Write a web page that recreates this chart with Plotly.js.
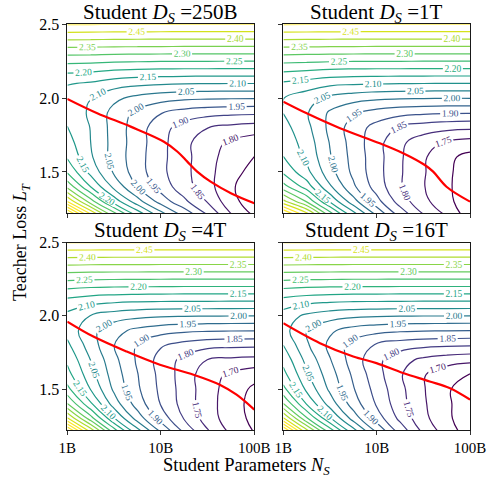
<!DOCTYPE html>
<html>
<head>
<meta charset="utf-8">
<script src="https://cdn.plot.ly/plotly-3.0.1.min.js"></script>
<style>html,body{margin:0;padding:0;background:#fff;}#chart{width:489px;height:477px;}</style>
</head>
<body>
<div id="chart"></div>
<script>
// ---- data ----
const N_B = [1, 1.778, 3.162, 5.623, 10, 17.78, 31.62, 56.23, 100];          // student params (B), grid columns
const TEACHER_LOSS = [1.2, 1.3, 1.4, 1.5, 1.6, 1.7, 1.8, 1.9, 2.0, 2.1, 2.2, 2.3, 2.6]; // grid rows
const X_TICK_VALS = [1, 10, 100];
const X_TICK_TEXT = ['1B', '10B', '100B'];
const Y_TICK_VALS = [1.5, 2.0, 2.5];
const Y_TICK_TEXT = ['1.5', '2.0', '2.5'];
const PANEL_TITLES = ['250B', '1T', '4T', '16T'];

// student loss, rows = teacher loss, cols = student params
const Z_250B = [
  [2.762, 2.532, 2.345, 2.203, 2.085, 1.995, 1.910, 1.808, 1.748],
  [2.500, 2.323, 2.180, 2.070, 1.980, 1.911, 1.846, 1.767, 1.721],
  [2.337, 2.199, 2.086, 2.000, 1.928, 1.872, 1.819, 1.757, 1.720],
  [2.244, 2.134, 2.043, 1.973, 1.913, 1.864, 1.817, 1.766, 1.735],
  [2.195, 2.107, 2.031, 1.970, 1.914, 1.865, 1.819, 1.776, 1.749],
  [2.171, 2.100, 2.032, 1.973, 1.916, 1.864, 1.821, 1.791, 1.772],
  [2.152, 2.098, 2.031, 1.973, 1.920, 1.877, 1.851, 1.835, 1.826],
  [2.130, 2.093, 2.033, 1.986, 1.952, 1.929, 1.917, 1.912, 1.909],
  [2.123, 2.101, 2.061, 2.035, 2.019, 2.010, 2.006, 2.004, 2.003],
  [2.154, 2.144, 2.124, 2.113, 2.107, 2.103, 2.102, 2.101, 2.101],
  [2.221, 2.217, 2.209, 2.205, 2.202, 2.201, 2.201, 2.200, 2.200],
  [2.308, 2.306, 2.303, 2.302, 2.301, 2.300, 2.300, 2.300, 2.300],
  [2.600, 2.600, 2.600, 2.600, 2.600, 2.600, 2.600, 2.600, 2.600]
];
const Z_1T = [
  [2.652, 2.497, 2.298, 2.138, 2.005, 1.891, 1.807, 1.750, 1.675],
  [2.416, 2.296, 2.144, 2.020, 1.918, 1.828, 1.763, 1.718, 1.660],
  [2.271, 2.177, 2.057, 1.959, 1.878, 1.806, 1.753, 1.711, 1.664],
  [2.191, 2.115, 2.018, 1.938, 1.869, 1.806, 1.755, 1.711, 1.671],
  [2.151, 2.089, 2.004, 1.933, 1.870, 1.807, 1.757, 1.712, 1.684],
  [2.133, 2.078, 1.997, 1.929, 1.868, 1.811, 1.772, 1.743, 1.730],
  [2.118, 2.065, 1.987, 1.927, 1.881, 1.845, 1.825, 1.814, 1.809],
  [2.099, 2.055, 1.992, 1.955, 1.930, 1.915, 1.908, 1.904, 1.903],
  [2.101, 2.072, 2.037, 2.020, 2.010, 2.005, 2.003, 2.001, 2.001],
  [2.143, 2.129, 2.113, 2.107, 2.104, 2.102, 2.101, 2.100, 2.100],
  [2.216, 2.211, 2.205, 2.202, 2.201, 2.201, 2.200, 2.200, 2.200],
  [2.306, 2.304, 2.302, 2.301, 2.300, 2.300, 2.300, 2.300, 2.300],
  [2.600, 2.600, 2.600, 2.600, 2.600, 2.600, 2.600, 2.600, 2.600]
];
const Z_4T = [
  [2.707, 2.466, 2.249, 2.086, 1.957, 1.851, 1.760, 1.694, 1.650],
  [2.458, 2.273, 2.105, 1.979, 1.880, 1.797, 1.726, 1.673, 1.638],
  [2.303, 2.158, 2.026, 1.927, 1.847, 1.780, 1.720, 1.673, 1.632],
  [2.215, 2.098, 1.991, 1.908, 1.839, 1.779, 1.721, 1.677, 1.640],
  [2.168, 2.069, 1.976, 1.902, 1.835, 1.777, 1.721, 1.690, 1.668],
  [2.140, 2.049, 1.964, 1.893, 1.831, 1.785, 1.749, 1.740, 1.735],
  [2.111, 2.025, 1.951, 1.895, 1.855, 1.831, 1.816, 1.812, 1.810],
  [2.082, 2.015, 1.967, 1.937, 1.919, 1.910, 1.905, 1.903, 1.902],
  [2.086, 2.048, 2.025, 2.013, 2.006, 2.003, 2.002, 2.001, 2.000],
  [2.134, 2.118, 2.109, 2.104, 2.102, 2.101, 2.101, 2.100, 2.100],
  [2.213, 2.206, 2.203, 2.202, 2.201, 2.200, 2.200, 2.200, 2.200],
  [2.305, 2.302, 2.301, 2.301, 2.300, 2.300, 2.300, 2.300, 2.300],
  [2.600, 2.600, 2.600, 2.600, 2.600, 2.600, 2.600, 2.600, 2.600]
];
const Z_16T = [
  [2.707, 2.449, 2.252, 2.088, 1.956, 1.840, 1.746, 1.680, 1.626],
  [2.458, 2.259, 2.107, 1.980, 1.878, 1.788, 1.714, 1.661, 1.617],
  [2.303, 2.147, 2.028, 1.926, 1.844, 1.770, 1.707, 1.659, 1.619],
  [2.215, 2.089, 1.990, 1.904, 1.831, 1.764, 1.704, 1.657, 1.621],
  [2.166, 2.058, 1.972, 1.891, 1.819, 1.756, 1.704, 1.669, 1.647],
  [2.134, 2.035, 1.953, 1.876, 1.813, 1.768, 1.739, 1.723, 1.714],
  [2.100, 2.008, 1.938, 1.880, 1.844, 1.823, 1.812, 1.807, 1.804],
  [2.069, 2.001, 1.958, 1.929, 1.915, 1.907, 1.904, 1.902, 1.901],
  [2.077, 2.040, 2.021, 2.010, 2.005, 2.002, 2.001, 2.001, 2.000],
  [2.130, 2.115, 2.107, 2.103, 2.102, 2.101, 2.100, 2.100, 2.100],
  [2.211, 2.205, 2.203, 2.201, 2.201, 2.200, 2.200, 2.200, 2.200],
  [2.304, 2.302, 2.301, 2.300, 2.300, 2.300, 2.300, 2.300, 2.300],
  [2.600, 2.600, 2.600, 2.600, 2.600, 2.600, 2.600, 2.600, 2.600]
];

// optimal teacher loss (red line)
const RED_250B_N = [1, 2.09, 4.76, 10.8, 15.1, 19.2, 24.5, 34.1, 56.2, 100];
const RED_250B_L = [1.995, 1.898, 1.807, 1.705, 1.637, 1.570, 1.502, 1.434, 1.356, 1.288];
const RED_1T_N = [1, 1.78, 4.05, 10.8, 19.2, 32.8, 40.3, 56.0, 100];
const RED_1T_L = [1.976, 1.897, 1.796, 1.694, 1.627, 1.547, 1.502, 1.400, 1.299];
const RED_4T_N = [1, 1.90, 4.31, 9.77, 22.4, 42.7, 64.6, 100];
const RED_4T_L = [1.961, 1.859, 1.757, 1.667, 1.599, 1.531, 1.463, 1.361];
const RED_16T_N = [1, 2.47, 5.61, 9.95, 19.2, 37.0, 60.3, 100];
const RED_16T_L = [1.950, 1.814, 1.723, 1.678, 1.610, 1.553, 1.508, 1.429];

// ---- drawing ----
const SERIF = 'Liberation Serif, Times New Roman, serif';
const panels = [
  {z: Z_250B, rn: RED_250B_N, rl: RED_250B_L, zmin: 1.75, xa: 'x',  ya: 'y'},
  {z: Z_1T,   rn: RED_1T_N,   rl: RED_1T_L,   zmin: 1.70, xa: 'x2', ya: 'y2'},
  {z: Z_4T,   rn: RED_4T_N,   rl: RED_4T_L,   zmin: 1.65, xa: 'x3', ya: 'y3'},
  {z: Z_16T,  rn: RED_16T_N,  rl: RED_16T_L,  zmin: 1.65, xa: 'x4', ya: 'y4'}
];
const traces = [];
panels.forEach(p => {
  traces.push({
    type: 'contour', x: N_B, y: TEACHER_LOSS, z: p.z, xaxis: p.xa, yaxis: p.ya,
    colorscale: 'Viridis', zmin: p.zmin, zmax: 2.5, zauto: false, showscale: false,
    autocontour: false,
    contours: {coloring: 'lines', start: 1.60, end: 2.80, size: 0.05,
               showlabels: true, labelformat: '.2f',
               labelfont: {family: SERIF, size: 9.5}},
    line: {width: 1.2, smoothing: 1.3},
    hoverinfo: 'skip'
  });
  traces.push({
    type: 'scatter', mode: 'lines', x: p.rn, y: p.rl, xaxis: p.xa, yaxis: p.ya,
    line: {color: '#ff0000', width: 2.2, shape: 'spline'}, hoverinfo: 'skip', showlegend: false
  });
});

const W = 489, H = 477;
const xl = [67.3 / W, 254.3 / W], xr = [283.3 / W, 470 / W];
const yt = [(H - 213.3) / H, (H - 24.3) / H], yb = [(H - 430.3) / H, (H - 242.5) / H];

function xax(domain, anchor, labels) {
  return {domain: domain, anchor: anchor, type: 'log', range: [0, 2],
    tickmode: 'array', tickvals: X_TICK_VALS, ticktext: X_TICK_TEXT, showticklabels: labels,
    ticks: 'outside', ticklen: 4, tickwidth: 0.8, tickcolor: '#000',
    showline: true, mirror: true, linecolor: '#000', linewidth: 0.9,
    showgrid: false, zeroline: false, fixedrange: true,
    tickfont: {family: SERIF, size: 15, color: '#000'}};
}
function yax(domain, anchor, labels) {
  return {domain: domain, anchor: anchor, range: [1.22, 2.5],
    tickmode: 'array', tickvals: Y_TICK_VALS, ticktext: Y_TICK_TEXT, showticklabels: labels,
    ticks: 'outside', ticklen: 4, tickwidth: 0.8, tickcolor: '#000',
    showline: true, mirror: true, linecolor: '#000', linewidth: 0.9,
    showgrid: false, zeroline: false, fixedrange: true,
    tickfont: {family: SERIF, size: 16, color: '#000'}};
}

const titleY = [H - 13.5, H - 13.5, H - 231, H - 231];
const titleX = [(xl[0] + xl[1]) / 2, (xr[0] + xr[1]) / 2, (xl[0] + xl[1]) / 2, (xr[0] + xr[1]) / 2];
const annotations = PANEL_TITLES.map((t, i) => ({
  text: 'Student <i>D<sub>S</sub></i> =' + t, xref: 'paper', yref: 'paper',
  x: titleX[i], y: titleY[i] / H, xanchor: 'center', yanchor: 'middle', showarrow: false,
  font: {family: SERIF, size: 21, color: '#000'}
}));
annotations.push({text: 'Student Parameters <i>N<sub>S</sub></i>', xref: 'paper', yref: 'paper',
  x: 246.5 / W, y: (H - 466.3) / H, xanchor: 'center', yanchor: 'middle', showarrow: false,
  font: {family: SERIF, size: 18.5, color: '#000'}});
annotations.push({text: 'Teacher Loss <i>L<sub>T</sub></i>', xref: 'paper', yref: 'paper',
  x: 22 / W, y: (H - 242) / H, xanchor: 'center', yanchor: 'middle', showarrow: false, textangle: -90,
  font: {family: SERIF, size: 18, color: '#000'}});

const layout = {
  width: W, height: H, margin: {l: 0, r: 0, t: 0, b: 0},
  paper_bgcolor: '#fff', plot_bgcolor: '#fff', showlegend: false, hovermode: false,
  xaxis: xax(xl, 'y', false), yaxis: yax(yt, 'x', true),
  xaxis2: xax(xr, 'y2', false), yaxis2: yax(yt, 'x2', false),
  xaxis3: xax(xl, 'y3', true), yaxis3: yax(yb, 'x3', true),
  xaxis4: xax(xr, 'y4', true), yaxis4: yax(yb, 'x4', false),
  annotations: annotations
};
Plotly.newPlot('chart', traces, layout, {staticPlot: true, displayModeBar: false});
</script>
</body>
</html>
